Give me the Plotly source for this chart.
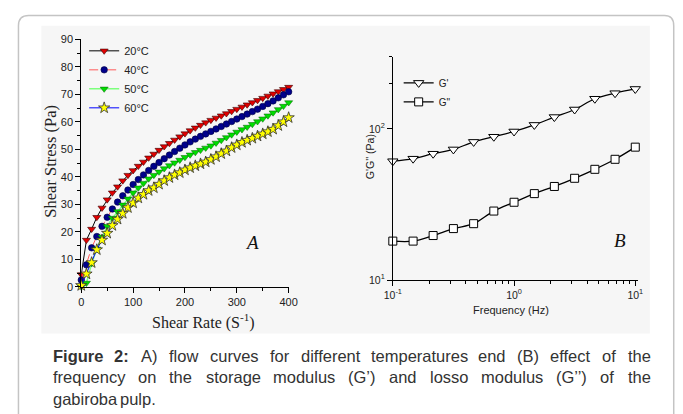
import plotly.graph_objects as go

# ---------------- data ----------------
shear_rate = [0, 10, 20, 30, 40, 50, 60, 70, 80, 90, 100, 110, 120, 130, 140, 150, 160, 170, 180, 190,
              200, 210, 220, 230, 240, 250, 260, 270, 280, 290, 300, 310, 320, 330, 340, 350, 360, 370,
              380, 390, 400]
stress_20C = [4.5, 17.0, 21.0, 25.3, 28.7, 31.7, 34.2, 36.4, 38.6, 40.6, 42.3, 43.9, 45.4, 46.9, 48.3,
              49.7, 51.0, 52.2, 53.4, 54.6, 55.7, 56.8, 57.8, 58.8, 59.7, 60.6, 61.4, 62.2, 63.0, 63.8,
              64.6, 65.4, 66.2, 67.0, 67.8, 68.6, 69.4, 70.2, 71.0, 71.8, 72.6]
stress_40C = [2.5, 8.0, 14.2, 18.3, 22.0, 25.3, 28.3, 30.8, 33.1, 35.2, 37.2, 39.0, 40.7, 42.3, 43.8,
              45.2, 46.6, 47.9, 49.2, 50.4, 51.6, 52.7, 53.7, 54.7, 55.6, 56.5, 57.4, 58.3, 59.2, 60.1,
              61.0, 61.9, 62.8, 63.7, 64.6, 65.6, 66.6, 67.6, 68.7, 69.8, 70.9]
stress_50C = [0.0, 1.4, 8.5, 13.8, 18.2, 22.0, 25.0, 27.4, 29.8, 32.0, 34.2, 36.0, 37.7, 39.3, 40.6,
              41.8, 43.0, 44.1, 45.1, 46.1, 47.1, 48.0, 48.9, 49.7, 50.5, 51.3, 52.3, 53.3, 54.3, 55.3,
              56.3, 57.2, 58.1, 59.1, 60.1, 61.1, 62.2, 63.3, 64.5, 65.7, 67.0]
stress_60C = [0.5, 4.7, 8.8, 13.5, 17.0, 19.5, 22.3, 24.6, 26.7, 28.8, 30.5, 32.3, 33.6, 35.0, 36.0,
              37.3, 38.6, 39.7, 40.7, 41.5, 42.5, 43.3, 44.0, 44.7, 45.4, 46.3, 47.3, 48.4, 49.4, 50.6,
              51.6, 52.5, 53.3, 54.0, 54.8, 55.6, 56.4, 57.3, 58.6, 60.0, 61.5]

frequency = [0.1, 0.147, 0.215, 0.316, 0.464, 0.681, 1.0, 1.47, 2.15, 3.16, 4.64, 6.81, 10.0]
g_storage = [61.1, 63.5, 68.5, 73.1, 82.0, 88.7, 96.1, 106.2, 119.7, 134.3, 158.2, 172.2, 183.6]
g_loss = [18.1, 18.1, 19.7, 21.9, 23.6, 28.6, 32.7, 37.3, 41.6, 47.1, 54.0, 62.9, 75.7]

caption_lines = [
    ["<b>Figure</b>", "<b>2:</b>", "A)", "flow", "curves", "for", "different", "temperatures", "end",
     "(B)", "effect", "of", "the"],
    ["frequency", "on", "the", "storage", "modulus", "(G’)", "and", "losso", "modulus", "(G’’)", "of", "the"],
    ["gabiroba", "pulp."],
]

# ---------------- helpers ----------------
# The page keeps the browser's 8px body margin, so the figure starts at (8, 8) of the window.
W, H = 683, 414
OFF = 8


def px(x):
    return (x - OFF) / W


def py(y):
    return 1 - (y - OFF) / H


REG = {' ': 278, 'a': 556, 'b': 556, 'c': 500, 'd': 556, 'e': 556, 'f': 278, 'g': 556, 'h': 556,
       'i': 222, 'j': 222, 'k': 500, 'l': 222, 'm': 833, 'n': 556, 'o': 556, 'p': 556, 'q': 556,
       'r': 333, 's': 500, 't': 278, 'u': 556, 'v': 500, 'w': 722, 'x': 500, 'y': 500, 'z': 500,
       'A': 667, 'B': 667, 'G': 778, 'F': 611, '(': 333, ')': 333, ':': 278, '.': 278, '2': 556,
       '’': 222}
BOLD = {'F': 611, 'i': 278, 'g': 611, 'u': 611, 'r': 389, 'e': 556, '2': 556, ':': 333}


def word_width(w, fs):
    if w.startswith("<b>"):
        t = w[3:-4]
        return sum(BOLD.get(c, 556) for c in t) * fs / 1000
    return sum(REG.get(c, 556) for c in w) * fs / 1000


CAP_FS = 16.5
CAP_FONT = "Liberation Sans, Arial, sans-serif"
CAP_X0, CAP_X1 = 43, 656
CAP_Y = [360, 382, 404]

fig = go.Figure()

# ---------------- panel A ----------------
fig.add_trace(go.Scatter(
    x=shear_rate, y=stress_20C, name="20°C", mode="lines+markers", legend="legend",
    line=dict(color="black", width=1),
    marker=dict(symbol="triangle-down", size=7, color="#e00000", line=dict(color="#3a0000", width=0.6)),
    cliponaxis=False, xaxis="x", yaxis="y"))
fig.add_trace(go.Scatter(
    x=shear_rate, y=stress_40C, name="40°C", mode="lines+markers", legend="legend",
    line=dict(color="#ff5a5a", width=1, dash="dash"),
    marker=dict(symbol="circle", size=6.5, color="#00008b", line=dict(color="#000040", width=0.6)),
    cliponaxis=False, xaxis="x", yaxis="y"))
fig.add_trace(go.Scatter(
    x=shear_rate, y=stress_50C, name="50°C", mode="lines+markers", legend="legend",
    line=dict(color="#7dff7d", width=1.5),
    marker=dict(symbol="triangle-down", size=7, color="#00dd00", line=dict(color="#006000", width=0.5)),
    cliponaxis=False, xaxis="x", yaxis="y"))
fig.add_trace(go.Scatter(
    x=shear_rate, y=stress_60C, name="60°C", mode="lines+markers", legend="legend",
    line=dict(color="#0000ff", width=1),
    marker=dict(symbol="star", size=8.5, color="#ffff00", line=dict(color="#303030", width=0.8)),
    cliponaxis=False, xaxis="x", yaxis="y"))

# ---------------- panel B ----------------
fig.add_trace(go.Scatter(
    x=frequency, y=g_storage, name="G'", mode="lines+markers", legend="legend2",
    line=dict(color="black", width=1.3, shape="spline"),
    marker=dict(symbol="triangle-down", size=9, color="white", line=dict(color="black", width=1)),
    cliponaxis=False, xaxis="x2", yaxis="y2"))
fig.add_trace(go.Scatter(
    x=frequency, y=g_loss, name='G"', mode="lines+markers", legend="legend2",
    line=dict(color="black", width=1.3, shape="spline"),
    marker=dict(symbol="square", size=8, color="white", line=dict(color="black", width=1)),
    cliponaxis=False, xaxis="x2", yaxis="y2"))

tick_font = dict(family="Liberation Sans, Arial, sans-serif", size=11, color="#222")
tick_font_b = dict(family="Liberation Sans, Arial, sans-serif", size=10.5, color="#222")

axis_common = dict(showline=True, linecolor="black", linewidth=1, ticks="outside", tickcolor="black",
                   showgrid=False, zeroline=False, mirror=False)


def label(text, x, y, size, family, angle=0, color="#222"):
    return dict(text=text, x=px(x), y=py(y), xref="paper", yref="paper", xanchor="center",
                yanchor="middle", textangle=angle, showarrow=False,
                font=dict(family=family, size=size, color=color))


serif = "Liberation Serif, Times New Roman, serif"
sans = "Liberation Sans, Arial, sans-serif"
annotations = [
    label("Shear Stress (Pa)", 43, 160, 16.5, serif, angle=-90),
    label("Shear Rate (S<sup>-1</sup>)", 200, 325, 16, serif),
    label("<i>A</i>", 249, 243, 19, serif, color="#111"),
    label("<i>B</i>", 627, 241, 19, serif, color="#111"),
    label("G'G'' (Pa)", 370, 155, 10.5, sans, angle=-90),
    label("Frequency (Hz)", 515, 313, 11, sans),
]

# caption (justified word by word)
for li, words in enumerate(caption_lines):
    widths = [word_width(w, CAP_FS) for w in words]
    if li < 2:
        gap = (CAP_X1 - CAP_X0 - sum(widths)) / (len(words) - 1)
    else:
        gap = REG[' '] * CAP_FS / 1000
    xpos = CAP_X0
    for w, wd in zip(words, widths):
        annotations.append(dict(text=w, x=px(xpos), y=py(CAP_Y[li]), xref="paper", yref="paper",
                                xanchor="left", yanchor="middle", showarrow=False,
                                font=dict(family=CAP_FONT, size=CAP_FS, color="#333")))
        xpos += wd + gap

shapes = [
    dict(type="rect", xref="paper", yref="paper", x0=px(33), x1=px(658), y0=py(337), y1=py(20),
         fillcolor="#f6f6f6", line=dict(width=0), layer="below"),
    dict(type="path", xref="paper", yref="paper", layer="below",
         path=(f"M {px(9.5)},{py(420)} L {px(9.5)},{py(20)} Q {px(9.5)},{py(9.5)} {px(20)},{py(9.5)} "
               f"L {px(673)},{py(9.5)} Q {px(682.5)},{py(9.5)} {px(682.5)},{py(20)} L {px(682.5)},{py(420)}"),
         line=dict(color="#c4c4c4", width=1.5)),
]

fig.update_layout(
    width=W, height=H, margin=dict(l=0, r=0, t=0, b=0),
    paper_bgcolor="white", plot_bgcolor="rgba(0,0,0,0)",
    showlegend=True,
    xaxis=dict(domain=[px(74), px(287)], range=[0, 400], anchor="y",
               tickvals=[0, 100, 200, 300, 400], ticklen=5, tickfont=tick_font,
               minor=dict(ticks="outside", ticklen=3, tickvals=[50, 150, 250, 350], tickcolor="black"),
               **axis_common),
    yaxis=dict(domain=[py(289), py(34)], range=[0, 90], anchor="x",
               tickvals=list(range(0, 91, 10)), ticklen=5, tickfont=tick_font,
               minor=dict(ticks="outside", ticklen=3, tickvals=list(range(5, 90, 10)), tickcolor="black"),
               **axis_common),
    xaxis2=dict(type="log", domain=[px(394), px(645.5)], range=[-1, 1.02], anchor="y2",
                tickvals=[0.1, 1, 10], ticktext=["10<sup>-1</sup>", "10<sup>0</sup>", "10<sup>1</sup>"],
                ticklen=5, tickfont=tick_font_b,
                minor=dict(ticks="outside", ticklen=3, tickcolor="black",
                           tickvals=[0.2, 0.3, 0.4, 0.5, 0.6, 0.7, 0.8, 0.9, 2, 3, 4, 5, 6, 7, 8, 9]),
                **axis_common),
    yaxis2=dict(type="log", domain=[py(282), py(52)], range=[1, 2.4771], anchor="x2",
                tickvals=[10, 100], ticktext=["10<sup>1</sup>", "10<sup>2</sup>"],
                ticklen=5, tickfont=tick_font_b,
                minor=dict(ticks="outside", ticklen=3, tickcolor="black", tickvals=[200, 300]),
                **axis_common),
    legend=dict(x=px(77), y=py(31), xanchor="left", yanchor="top", bgcolor="rgba(0,0,0,0)",
                font=dict(family=sans, size=11, color="#222"),
                itemwidth=30, tracegroupgap=0, borderwidth=0),
    legend2=dict(x=px(400), y=py(64), xanchor="left", yanchor="top", bgcolor="rgba(0,0,0,0)",
                 font=dict(family=sans, size=10, color="#222"),
                 itemwidth=30, tracegroupgap=0, borderwidth=0),
    annotations=annotations,
    shapes=shapes,
)

fig.write_html("out.html", config={"displayModeBar": False})
